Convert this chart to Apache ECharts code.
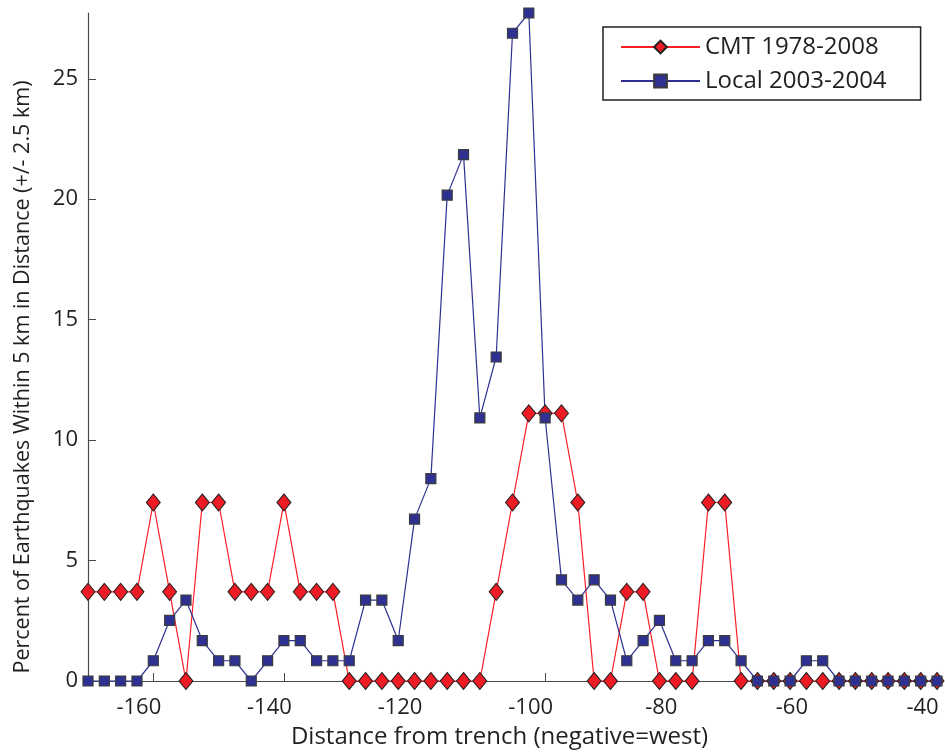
<!DOCTYPE html>
<html>
<head>
<meta charset="utf-8">
<script src="https://cdn.jsdelivr.net/npm/echarts@6/dist/echarts.min.js"></script>
<style>
  html, body { margin: 0; padding: 0; background: #ffffff; }
  #chart { width: 945px; height: 755px; }
</style>
</head>
<body>
<div id="chart"></div>
<script>
// Distance from trench (km), 2.5 km steps
const distances = [
  -170, -167.5, -165, -162.5, -160, -157.5, -155, -152.5, -150, -147.5,
  -145, -142.5, -140, -137.5, -135, -132.5, -130, -127.5, -125, -122.5,
  -120, -117.5, -115, -112.5, -110, -107.5, -105, -102.5, -100, -97.5,
  -95, -92.5, -90, -87.5, -85, -82.5, -80, -77.5, -75, -72.5,
  -70, -67.5, -65, -62.5, -60, -57.5, -55, -52.5, -50, -47.5,
  -45, -42.5, -40
];

// Percent of CMT events (1978-2008) within +/- 2.5 km
const cmtPercent = [
  3.70, 3.70, 3.70, 3.70, 7.41, 3.70, 0, 7.41, 7.41, 3.70,
  3.70, 3.70, 7.41, 3.70, 3.70, 3.70, 0, 0, 0, 0,
  0, 0, 0, 0, 0, 3.70, 7.41, 11.11, 11.11, 11.11,
  7.41, 0, 0, 3.70, 3.70, 0, 0, 0, 7.41, 7.41,
  0, 0, 0, 0, 0, 0, 0, 0, 0, 0,
  0, 0, 0
];

// Percent of local network events (2003-2004) within +/- 2.5 km
const localPercent = [
  0, 0, 0, 0, 0.84, 2.52, 3.36, 1.68, 0.84, 0.84,
  0, 0.84, 1.68, 1.68, 0.84, 0.84, 0.84, 3.36, 3.36, 1.68,
  6.72, 8.40, 20.17, 21.85, 10.92, 13.45, 26.89, 27.73, 10.92, 4.20,
  3.36, 4.20, 3.36, 0.84, 1.68, 2.52, 0.84, 0.84, 1.68, 1.68,
  0.84, 0, 0, 0, 0.84, 0.84, 0, 0, 0, 0,
  0, 0, 0
];

const xTickValues = [-160, -140, -120, -100, -80, -60, -40];
const yTickValues = [0, 5, 10, 15, 20, 25];

const seriesNames = ['CMT 1978-2008', 'Local 2003-2004'];
const xTitle = 'Distance from trench (negative=west)';
const yTitle = 'Percent of Earthquakes Within 5 km in Distance (+/- 2.5 km)';

const pairs = (vals) => distances.map((d, i) => [d, vals[i]]);

const FONT = '"Open Sans", "Noto Sans", sans-serif';
const TEXT = '#231f20';
const AXIS = '#4a4a4a';

const chart = echarts.init(document.getElementById('chart'), null, { renderer: 'canvas' });

chart.setOption({
  animation: false,
  backgroundColor: '#ffffff',
  textStyle: { fontFamily: FONT, color: TEXT },
  grid: { left: 88, right: 8, top: 13, bottom: 74, containLabel: false },
  // rotated y-axis title, placed a little below the plot's vertical centre
  graphic: [{
    type: 'text',
    x: 23,
    y: 377,
    rotation: Math.PI / 2,
    silent: true,
    style: {
      text: yTitle,
      font: '21.5px "Open Sans", "Noto Sans", sans-serif',
      fill: TEXT,
      align: 'center',
      verticalAlign: 'middle'
    }
  }],
  legend: {
    orient: 'vertical',
    left: 603,
    top: 27,
    padding: [7, 34, 6, 17],
    itemWidth: 79,
    itemHeight: 16,
    itemGap: 8,
    borderColor: '#231f20',
    borderWidth: 1.5,
    textStyle: { fontFamily: FONT, fontSize: 24, color: TEXT, lineHeight: 26 },
    data: seriesNames
  },
  xAxis: {
    type: 'value',
    min: -170,
    max: -40,
    name: xTitle,
    nameLocation: 'middle',
    nameGap: 44,
    nameTextStyle: { fontFamily: FONT, fontSize: 24, color: TEXT, padding: [0, 26, 0, 0] },
    splitLine: { show: false },
    axisLine: { onZero: false, lineStyle: { color: AXIS, width: 1.2 } },
    axisTick: { inside: true, length: 8, customValues: xTickValues, lineStyle: { color: AXIS, width: 1 } },
    axisLabel: {
      customValues: xTickValues,
      fontFamily: FONT, fontSize: 22, color: TEXT,
      margin: 16,
      padding: [0, 29, 0, 0]
    }
  },
  yAxis: {
    type: 'value',
    min: 0,
    max: Math.max(...localPercent),
    splitLine: { show: false },
    axisLine: { show: true, lineStyle: { color: AXIS, width: 1.2 } },
    axisTick: { show: true, inside: true, length: 8, customValues: yTickValues, lineStyle: { color: AXIS, width: 1 } },
    axisLabel: {
      customValues: yTickValues,
      fontFamily: FONT, fontSize: 22, color: TEXT,
      margin: 10
    }
  },
  series: [
    {
      name: seriesNames[0],
      type: 'line',
      data: pairs(cmtPercent),
      clip: false,
      symbol: 'diamond',
      symbolSize: [14, 17],
      lineStyle: { color: '#ff1d25', width: 1.2 },
      itemStyle: { color: '#ed1c24', borderColor: '#231f20', borderWidth: 1 },
      emphasis: { disabled: true }
    },
    {
      name: seriesNames[1],
      type: 'line',
      data: pairs(localPercent),
      clip: false,
      symbol: 'rect',
      symbolSize: 10,
      lineStyle: { color: '#2e3192', width: 1.2 },
      itemStyle: { color: '#2e3192', borderColor: '#3c3c3c', borderWidth: 1.2 },
      emphasis: { disabled: true }
    }
  ]
});
</script>
</body>
</html>
